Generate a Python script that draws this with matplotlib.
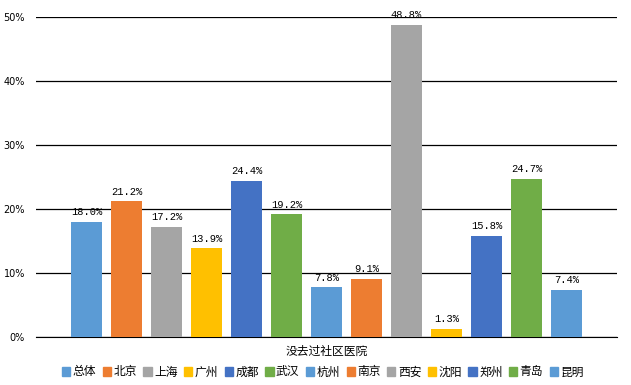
import matplotlib
matplotlib.use("Agg")
import matplotlib.pyplot as plt
import numpy as np

plt.rcParams['font.family'] = ['Noto Sans CJK SC', 'DejaVu Sans']

cities = ["总体", "北京", "上海", "广州", "成都", "武汉", "杭州", "南京", "西安", "沈阳", "郑州", "青岛", "昆明"]
values = [18.0, 21.2, 17.2, 13.9, 24.4, 19.2, 7.8, 9.1, 48.8, 1.3, 15.8, 24.7, 7.4]
palette = ["#5B9BD5", "#ED7D31", "#A5A5A5", "#FFC000", "#4472C4", "#70AD47"]
category = "没去过社区医院"

fig = plt.figure(figsize=(6.31, 3.85), dpi=100)
ax = fig.add_axes([36/631, 1-337/385, (617-36)/631, (337-17)/385])

x = np.arange(len(cities))
colors = [palette[i % len(palette)] for i in range(len(cities))]
bars = ax.bar(x, values, width=0.78, color=colors, zorder=3)

for xi, v in zip(x, values):
    ax.text(xi, v + 0.7, f"{v:.1f}%", ha="center", va="bottom",
            fontsize=7.5, family="Liberation Mono", zorder=4)

ax.set_xlim(-1.2625, 13.2625)
ax.set_ylim(0, 50)
ax.set_yticks(range(0, 51, 10))
ax.set_yticklabels([f"{t}%" for t in range(0, 51, 10)], fontsize=7, family="DejaVu Sans")
ax.yaxis.grid(True, color="black", linewidth=0.9, zorder=0)
ax.set_xticks([])
for s in ["top", "right", "left"]:
    ax.spines[s].set_visible(False)
ax.spines["bottom"].set_color("black")
ax.tick_params(axis="y", length=0, pad=8)

fig.text((36+617)/2/631, 1-351/385, category, ha="center", va="center", fontsize=8.5)

handles = [plt.Rectangle((0, 0), 1, 1, color=c) for c in colors]
fig.legend(handles, cities, loc="center", bbox_to_anchor=(323/631, 1-372/385), ncol=13,
           frameon=False, fontsize=8.5, handlelength=0.7, handleheight=0.7,
           handletextpad=0.2, columnspacing=0.55, borderpad=0)

fig.savefig("out.png", dpi=100)
